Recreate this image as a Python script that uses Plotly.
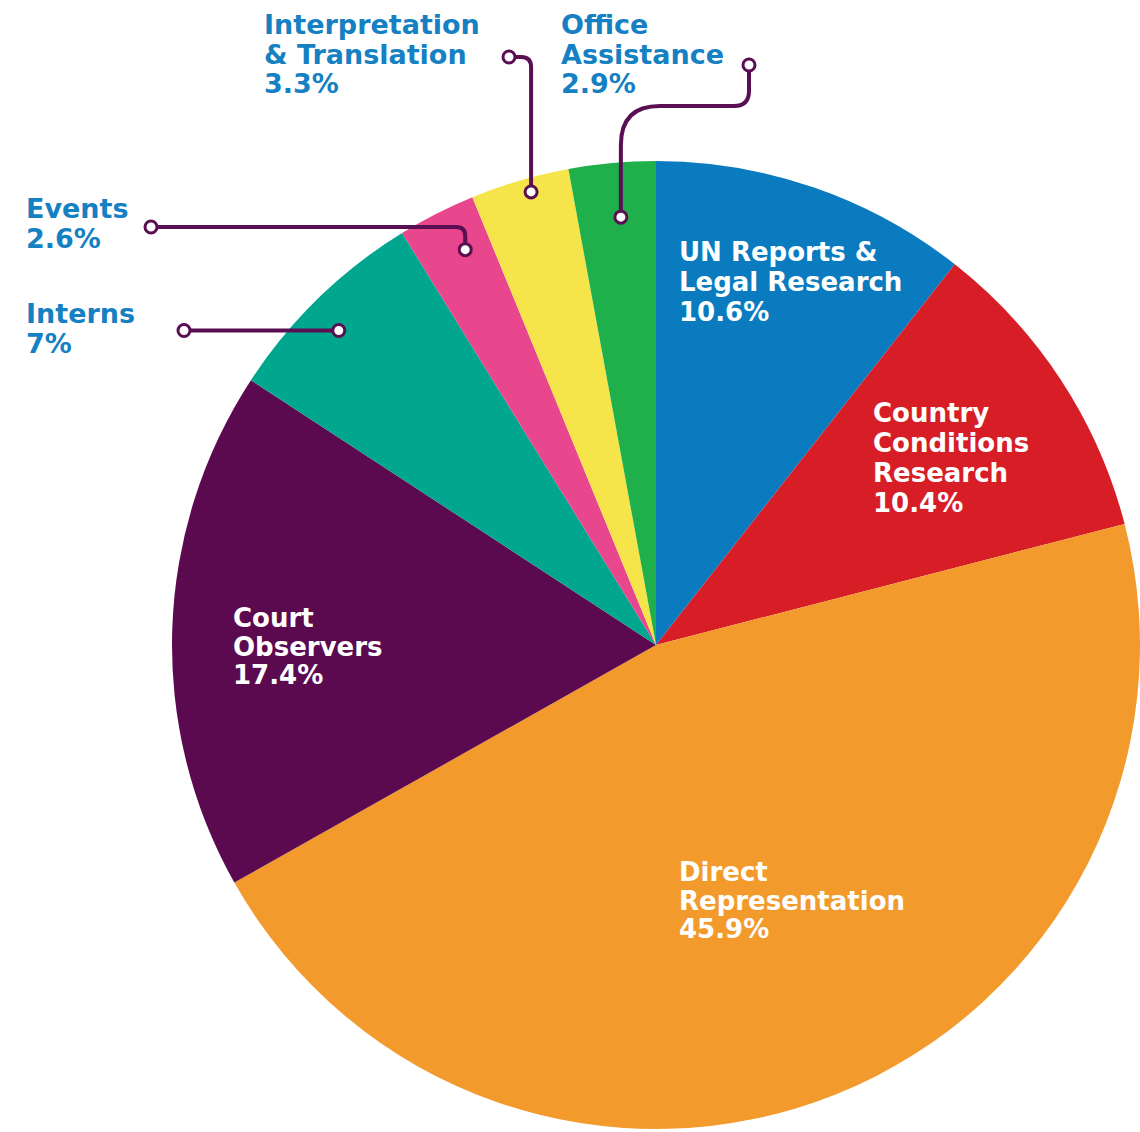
import math
import plotly.graph_objects as go

# ---- data ----
categories = ["UN Reports &|Legal Research", "Country|Conditions|Research",
              "Direct|Representation", "Court|Observers", "Interns", "Events",
              "Interpretation|& Translation", "Office|Assistance"]
values = [10.6, 10.4, 45.9, 17.4, 7.0, 2.6, 3.3, 2.9]
pct_labels = ["10.6%", "10.4%", "45.9%", "17.4%", "7%", "2.6%", "3.3%", "2.9%"]
colors = ["#0A7BBF", "#D71E27", "#F39A2C", "#5C0A50", "#00A78E", "#E8478E", "#F5E54B", "#20B04B"]

W, H = 1140, 1132
CX, CY, R = 656, 645, 484
FONT = "DejaVu Sans"
LABEL_BLUE = "#1580C2"
LEADER = "#5A0F52"

fig = go.Figure(go.Pie(
    labels=[c.replace("|", " ") for c in categories], values=values, sort=False,
    direction="clockwise", rotation=0,
    marker=dict(colors=colors, line=dict(width=0)), textinfo="none", hoverinfo="label+percent",
    showlegend=False,
    domain=dict(x=[(CX - R) / W, min(1.0, (CX + R) / W)], y=[1 - (CY + R) / H, 1 - (CY - R) / H]),
))

def px(x, y):
    return x / W, 1 - y / H

# label placement: left x, cap-middle y of first line, line step
inside = {0: (678, 251, 30.0), 1: (872, 412, 30.0), 2: (678, 871, 28.5), 3: (232, 617, 28.5)}
outside = {4: (25, 313, 30.0), 5: (25, 207.5, 30.0), 6: (263, 23.5, 29.5), 7: (560, 23.5, 29.5)}
YADJ = 1.0  # cap-middle vs box-middle offset

annotations = []
def add_label(i, x, y, step, color, size):
    lines = categories[i].split("|") + [pct_labels[i]]
    for k, t in enumerate(lines):
        ax, ay = px(x - 1, y + k * step + YADJ)
        annotations.append(dict(x=ax, y=ay, xref="paper", yref="paper", xanchor="left",
                                yanchor="middle", text=t, showarrow=False, align="left",
                                font=dict(family=FONT, size=size, color=color, weight="bold")))

for i, (x, y, s) in inside.items():
    add_label(i, x, y, s, "white", 26)
for i, (x, y, s) in outside.items():
    add_label(i, x, y, s, LABEL_BLUE, 27)

# leader anchors on slices: (position within slice, radius fraction)
total = sum(values)
starts = []
cum = 0
for v in values:
    starts.append(cum)
    cum += v
place = {4: (0.46, 0.923), 5: (0.63, 0.907), 6: (0.58, 0.971), 7: (0.55, 0.887)}
anchor = {}
for i, (p, f) in place.items():
    a = (starts[i] + p * values[i]) / total * 2 * math.pi
    anchor[i] = (CX + f * R * math.sin(a), CY - f * R * math.cos(a))

def P(x, y):
    a, b = px(x, y)
    return f"{a:.5f},{b:.5f}"

shapes = []
ox, oy = anchor[7]
ix, iy = anchor[6]
ex, ey = anchor[5]
nx, ny = anchor[4]
paths = [
    f"M {P(ox, oy)} L {P(ox, 145)} Q {P(ox, 106)} {P(ox + 39, 106)} L {P(734, 106)} Q {P(749, 106)} {P(749, 91)} L {P(749, 65)}",
    f"M {P(ix, iy)} L {P(ix, 67)} Q {P(ix, 57)} {P(ix - 10, 57)} L {P(509, 57)}",
    f"M {P(ex, ey)} L {P(ex, 236)} Q {P(ex, 227)} {P(ex - 9, 227)} L {P(151, 227)}",
    f"M {P(nx, ny)} L {P(184, ny)}",
]
for p in paths:
    shapes.append(dict(type="path", path=p, xref="paper", yref="paper",
                       line=dict(color=LEADER, width=4)))
dots = [(ox, oy), (749, 65), (ix, iy), (509, 57), (ex, ey), (151, 227), (nx, ny), (184, ny)]
rr = 6
for x, y in dots:
    shapes.append(dict(type="circle", xref="paper", yref="paper",
                       x0=(x - rr) / W, x1=(x + rr) / W, y0=1 - (y + rr) / H, y1=1 - (y - rr) / H,
                       fillcolor="white", line=dict(color=LEADER, width=3)))

fig.update_layout(width=W, height=H, margin=dict(l=0, r=0, t=0, b=0),
                  paper_bgcolor="white", plot_bgcolor="white",
                  annotations=annotations, shapes=shapes)
fig.write_html("out.html", config={"displayModeBar": False},
               post_script="document.body.style.margin='0';document.body.style.overflow='hidden';")
